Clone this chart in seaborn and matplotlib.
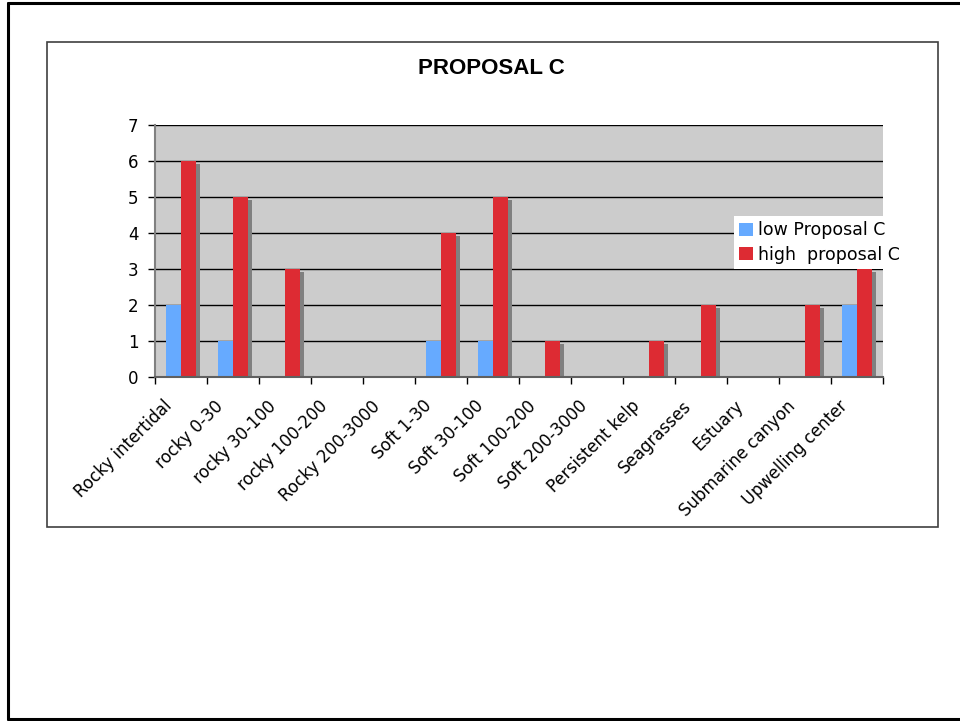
import numpy as np
import pandas as pd
import matplotlib
matplotlib.use("Agg")
import matplotlib.pyplot as plt
import matplotlib.transforms as mtransforms
from matplotlib.lines import Line2D
from matplotlib.patches import Rectangle
import seaborn as sns

categories = ["Rocky intertidal", "rocky 0-30", "rocky 30-100", "rocky 100-200",
              "Rocky 200-3000", "Soft 1-30", "Soft 30-100", "Soft 100-200",
              "Soft 200-3000", "Persistent kelp", "Seagrasses", "Estuary",
              "Submarine canyon", "Upwelling center"]
low_values = [2, 1, 0, 0, 0, 1, 1, 0, 0, 0, 0, 0, 0, 2]
high_values = [6, 5, 3, 0, 0, 4, 5, 1, 0, 1, 2, 0, 2, 3]
series_names = ["low Proposal C", "high  proposal C"]
series_colors = ["#66AAFF", "#DD2B33"]
title = "PROPOSAL C"

df = pd.DataFrame({
    "category": categories * 2,
    "value": low_values + high_values,
    "series": [series_names[0]] * len(categories) + [series_names[1]] * len(categories),
})

sns.set_theme(style="white")
plt.rcParams["font.family"] = ["DejaVu Sans"]
plt.rcParams["text.color"] = "black"
plt.rcParams["xtick.color"] = "black"
plt.rcParams["ytick.color"] = "black"

W, H = 960, 721
fig = plt.figure(figsize=(W / 100, H / 100), dpi=100)
fig.patch.set_facecolor("white")

def fx(px):
    return px / W

def fy(py):
    return 1 - py / H

# page frame and chart frame
fig.add_artist(Line2D([fx(8), fx(8)], [fy(3), fy(719)], color="black", lw=2.2))
fig.add_artist(Line2D([fx(8), 1.0], [fy(3), fy(3)], color="black", lw=2.2))
fig.add_artist(Line2D([fx(8), 1.0], [fy(719), fy(719)], color="black", lw=2.2))
fig.add_artist(Rectangle((fx(47), fy(527)), fx(938) - fx(47), fy(42) - fy(527),
                         transform=fig.transFigure, fill=False,
                         edgecolor="#404040", lw=1.2))

ax = fig.add_axes([fx(155), fy(377), fx(883) - fx(155), fy(125) - fy(377)])
ax.set_facecolor("#CCCCCC")

sns.barplot(data=df, x="category", y="value", hue="series",
            palette=series_colors, width=0.58, saturation=1,
            edgecolor="none", linewidth=0, ax=ax, zorder=3, legend=True)

# drop shadow behind the red bars
shadow_offset = mtransforms.ScaledTranslation(4 / 100, -3 / 100, fig.dpi_scale_trans)
red_container = ax.containers[1]
for bar in red_container:
    x, y = bar.get_xy()
    sh = Rectangle((x, y), bar.get_width(), bar.get_height(),
                   facecolor="#808080", edgecolor="none",
                   transform=ax.transData + shadow_offset, zorder=2)
    ax.add_patch(sh)

ax.set_xlim(-0.5, len(categories) - 0.5)
ax.set_ylim(0, 7)
ax.set_yticks(range(0, 8))
ax.yaxis.grid(True, color="black", lw=1.0, zorder=1)
ax.set_axisbelow(True)
ax.set_xlabel("")
ax.set_ylabel("")

for side in ["top", "right"]:
    ax.spines[side].set_visible(False)
ax.spines["left"].set_color("#808080")
ax.spines["left"].set_linewidth(1.5)
ax.spines["bottom"].set_color("#606060")
ax.spines["bottom"].set_linewidth(1.5)
ax.spines["left"].set_zorder(5)
ax.spines["bottom"].set_zorder(5)

ax.tick_params(axis="y", which="major", left=True, length=5, width=1,
               color="black", labelsize=12, pad=7, labelcolor="black")
ax.set_xticks(np.arange(len(categories)))
ax.set_xticks(np.arange(-0.5, len(categories)), minor=True)
ax.tick_params(axis="x", which="major", bottom=False, length=0, pad=19)
ax.tick_params(axis="x", which="minor", bottom=True, length=5, width=1, color="black")
ax.set_xticklabels(categories, rotation=45, ha="right", va="center",
                   rotation_mode="anchor", fontsize=12, color="black")
label_shift = mtransforms.ScaledTranslation(-12 / 100, 0, fig.dpi_scale_trans)
for lbl in ax.get_xticklabels():
    lbl.set_transform(lbl.get_transform() + label_shift)

fig.text(fx(491), fy(68), title, ha="center", va="center", color="black",
         fontsize=16, fontweight="bold", family=["Liberation Sans", "DejaVu Sans"])

handles, labels = ax.get_legend_handles_labels()
leg = ax.legend(handles, labels, loc="upper left",
                bbox_to_anchor=(fx(734), fy(216)), bbox_transform=fig.transFigure,
                frameon=True, facecolor="white", edgecolor="none", framealpha=1,
                fancybox=False, fontsize=12.5, handlelength=0.8, handleheight=0.75,
                handletextpad=0.3, borderpad=0.3, labelspacing=0.38,
                borderaxespad=0)
for t in leg.get_texts():
    t.set_color("black")

fig.savefig("out.png", dpi=100)
